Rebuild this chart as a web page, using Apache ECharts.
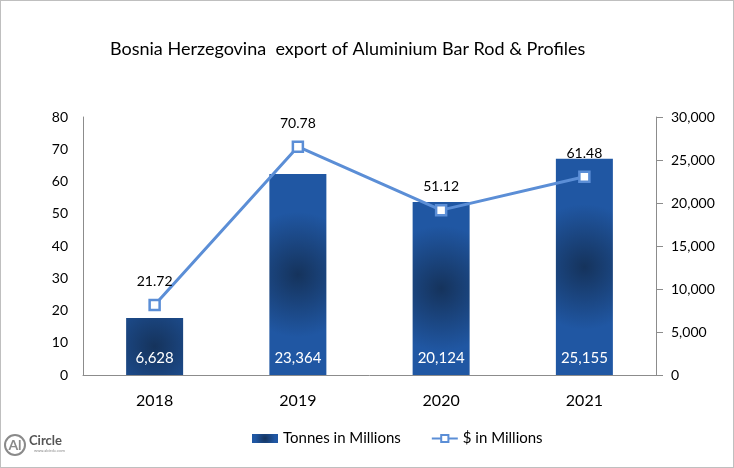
<!DOCTYPE html>
<html>
<head>
<meta charset="utf-8">
<script src="https://cdn.jsdelivr.net/npm/echarts@6/dist/echarts.min.js"></script>
<style>
	html, body { margin: 0; padding: 0; background: #fff; }
	#myChart { width: 734px; height: 468px; box-sizing: border-box; border: 1px solid #bfbfbf; }
</style>
</head>
<body>
<div id="myChart"></div>
<script>
	var years = ['2018', '2019', '2020', '2021'];
	var tonnes = [6628, 23364, 20124, 25155];
	var dollars = [21.72, 70.78, 51.12, 61.48];

	var fontName = 'Lato';
	var lineColor = '#5b8ed6';
	var barFill = {
		type: 'radial', x: 0.5, y: 0.5, r: 1.1,
		colorStops: [
			{ offset: 0, color: '#15335c' },
			{ offset: 1, color: '#2057a3' }
		]
	};

	var myChart = echarts.init(document.getElementById('myChart'));
	myChart.setOption({
		animation: false,
		textStyle: { fontFamily: fontName },
		title: {
			text: 'Bosnia Herzegovina  export of Aluminium Bar Rod & Profiles',
			left: 104,
			top: 34,
			textStyle: { fontFamily: fontName, fontSize: 18, fontWeight: 'normal', color: '#000' }
		},
		legend: {
			bottom: 16,
			left: 246,
			itemGap: 30,
			itemWidth: 26,
			itemHeight: 9,
			textStyle: { fontFamily: fontName, fontSize: 15, color: '#000' },
			data: [
				{ name: 'Tonnes in Millions', icon: 'rect' },
				{ name: '$ in Millions' }
			]
		},
		grid: { left: 82, right: 77, top: 116, bottom: 92 },
		xAxis: {
			type: 'category',
			data: years,
			axisLine: { lineStyle: { color: '#8c8c8c' } },
			axisTick: { show: false },
			axisLabel: { fontSize: 16, color: '#000', margin: 18 }
		},
		yAxis: [{
			type: 'value',
			min: 0, max: 80, interval: 10,
			axisLine: { show: true, lineStyle: { color: '#8c8c8c' } },
			axisTick: { show: false },
			splitLine: { show: false },
			axisLabel: { fontSize: 14, color: '#000', margin: 15 }
		}, {
			type: 'value',
			min: 0, max: 30000, interval: 5000,
			position: 'right',
			axisLine: { show: true, lineStyle: { color: '#8c8c8c' } },
			axisTick: { show: true, length: 7, lineStyle: { color: '#8c8c8c' } },
			splitLine: { show: false },
			axisLabel: {
				fontSize: 14, color: '#000', margin: 15,
				formatter: function(v) { return v.toLocaleString('en-US'); }
			}
		}],
		series: [{
			name: 'Tonnes in Millions',
			type: 'bar',
			yAxisIndex: 1,
			data: tonnes,
			barWidth: 57,
			itemStyle: { color: barFill },
			label: {
				show: true,
				position: 'insideBottom',
				distance: 9,
				color: '#fff',
				fontSize: 15,
				formatter: function(p) { return p.value.toLocaleString('en-US'); }
			}
		}, {
			name: '$ in Millions',
			type: 'line',
			yAxisIndex: 0,
			data: dollars,
			symbol: 'rect',
			symbolSize: 10,
			lineStyle: { color: lineColor, width: 3 },
			itemStyle: { color: '#fff', borderColor: lineColor, borderWidth: 2.5 },
			label: {
				show: true,
				position: 'top',
				distance: 10,
				color: '#000',
				fontSize: 14,
				formatter: function(p) { return p.value.toFixed(2); }
			}
		}],
		graphic: [{
			type: 'circle',
			shape: { cx: 14, cy: 444, r: 10 },
			style: { fill: 'none', stroke: '#8a8a8a', lineWidth: 2 }
		}, {
			type: 'text',
			x: 14, y: 444,
			style: { text: 'Al', fontSize: 14, fontWeight: 'bold', fill: '#8a8a8a', fontFamily: fontName, align: 'center', verticalAlign: 'middle' }
		}, {
			type: 'text',
			x: 28, y: 440,
			style: { text: 'Circle', fontSize: 13, fontWeight: 'bold', fill: '#555', fontFamily: fontName, verticalAlign: 'middle' }
		}, {
			type: 'text',
			x: 33, y: 450,
			style: { text: 'www.alcircle.com', fontSize: 4, fill: '#888', fontFamily: fontName, verticalAlign: 'middle' }
		}]
	});
</script>
</body>
</html>
